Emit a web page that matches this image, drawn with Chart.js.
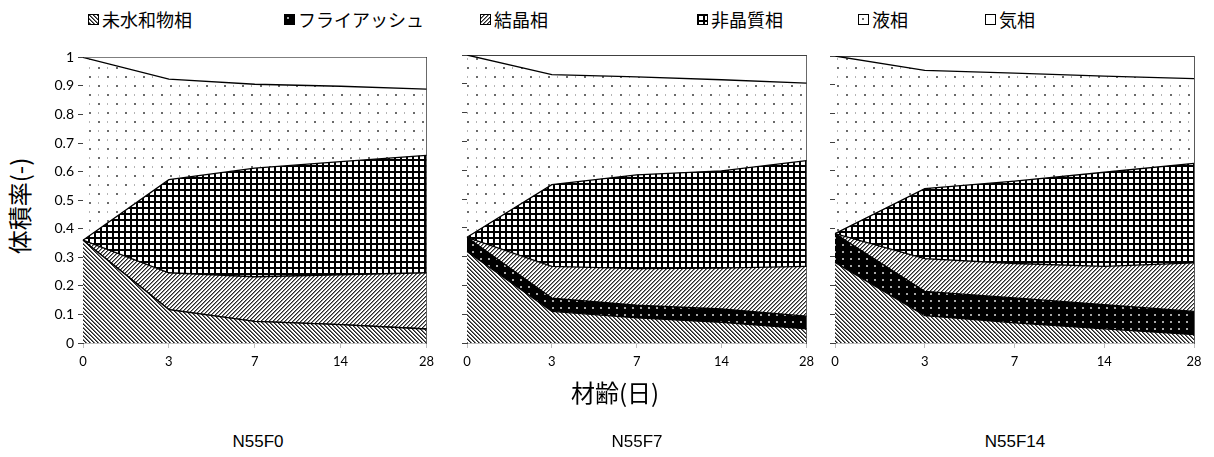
<!DOCTYPE html>
<html><head><meta charset="utf-8">
<script src="https://cdn.jsdelivr.net/npm/chart.js@4"></script>
<style>
html,body{margin:0;padding:0;background:#fff;width:1214px;height:457px;overflow:hidden;}
body{position:relative;font-family:"Noto Sans CJK JP",sans-serif;color:#000;}
.pc{position:absolute;}
.leg{position:absolute;top:9px;height:20px;font-size:18px;line-height:20px;display:flex;align-items:center;white-space:nowrap;}
.leg canvas{width:11px;height:11px;margin-right:3px;}
.t{position:absolute;white-space:nowrap;line-height:1;}
</style></head><body>

<div class="leg" style="left:88px"><canvas id="sw0" width="11" height="11"></canvas>未水和物相</div>
<div class="leg" style="left:284px"><canvas id="sw1" width="11" height="11"></canvas>フライアッシュ</div>
<div class="leg" style="left:480px"><canvas id="sw2" width="11" height="11"></canvas>結晶相</div>
<div class="leg" style="left:697px"><canvas id="sw3" width="11" height="11"></canvas>非晶質相</div>
<div class="leg" style="left:858px"><canvas id="sw4" width="11" height="11"></canvas>液相</div>
<div class="leg" style="left:985px"><canvas id="sw5" width="11" height="11"></canvas>気相</div>

<canvas id="c1" class="pc" style="left:40px;top:45px;width:400px;height:335px" width="400" height="335"></canvas>
<canvas id="c2" class="pc" style="left:445px;top:45px;width:375px;height:335px" width="375" height="335"></canvas>
<canvas id="c3" class="pc" style="left:815px;top:45px;width:395px;height:335px" width="395" height="335"></canvas>

<div class="t" id="ytitle" style="left:19px;top:206px;font-size:24px;transform:translate(-50%,-50%) rotate(-90deg);">体積率(-)</div>
<div class="t" style="left:615px;top:392px;font-size:24px;transform:translate(-50%,-50%);">材齢(日)</div>
<div class="t" style="left:258px;top:441px;font-size:17px;font-family:'Liberation Sans',Arial,sans-serif;transform:translate(-50%,-50%);">N55F0</div>
<div class="t" style="left:637px;top:441px;font-size:17px;font-family:'Liberation Sans',Arial,sans-serif;transform:translate(-50%,-50%);">N55F7</div>
<div class="t" style="left:1015px;top:441px;font-size:17px;font-family:'Liberation Sans',Arial,sans-serif;transform:translate(-50%,-50%);">N55F14</div>

<script>
// ---- data ----
const days = ['0', '3', '7', '14', '28'];
const yTickLabels = ['0', '0.1', '0.2', '0.3', '0.4', '0.5', '0.6', '0.7', '0.8', '0.9', '1'];
const phaseNames = ['未水和物相', 'フライアッシュ', '結晶相', '非晶質相', '液相', '気相'];
const panelNames = ['N55F0', 'N55F7', 'N55F14'];

// N55F0
const f0Unhydrated = [0.360, 0.117, 0.076, 0.064, 0.049];
const f0FlyAsh     = [0, 0, 0, 0, 0];
const f0Crystal    = [0, 0.129, 0.156, 0.175, 0.197];
const f0Amorphous  = [0, 0.326, 0.380, 0.396, 0.411];
const f0Liquid     = [0.640, 0.352, 0.294, 0.264, 0.232];
const f0Gas        = [0, 0.076, 0.094, 0.101, 0.111];
// N55F7
const f7Unhydrated = [0.318, 0.110, 0.087, 0.072, 0.049];
const f7FlyAsh     = [0.049, 0.046, 0.044, 0.046, 0.044];
const f7Crystal    = [0, 0.110, 0.127, 0.142, 0.173];
const f7Amorphous  = [0, 0.284, 0.326, 0.338, 0.367];
const f7Liquid     = [0.633, 0.382, 0.340, 0.316, 0.269];
const f7Gas        = [0, 0.068, 0.076, 0.086, 0.098];
// N55F14
const f14Unhydrated = [0.281, 0.095, 0.070, 0.049, 0.029];
const f14FlyAsh     = [0.100, 0.085, 0.087, 0.085, 0.081];
const f14Crystal    = [0, 0.114, 0.120, 0.133, 0.169];
const f14Amorphous  = [0, 0.244, 0.287, 0.328, 0.347];
const f14Liquid     = [0.619, 0.412, 0.376, 0.335, 0.295];
const f14Gas        = [0, 0.050, 0.060, 0.070, 0.079];

// ---- patterns ----
function tile(w, h, draw) {
  const c = document.createElement('canvas');
  c.width = w; c.height = h;
  const g = c.getContext('2d');
  draw(g, w, h);
  return c;
}
function px(g, x, y, col) { g.fillStyle = col; g.fillRect(x, y, 1, 1); }
const tiles = [
  // unhydrated: \\\ diagonal
  tile(4, 4, (g) => { g.fillStyle = '#fff'; g.fillRect(0,0,4,4);
    for (let y=0;y<4;y++) for (let x=0;x<4;x++) { const d=((x-y)%4+4)%4; if(d===0) px(g,x,y,'#202020'); else if(d===1) px(g,x,y,'#707070'); } }),
  // fly ash: black with light dots
  tile(8, 7, (g) => { g.fillStyle = '#000'; g.fillRect(0,0,8,7); g.fillStyle='#a8a8a8'; g.fillRect(3,3,2,2); }),
  // crystalline: /// diagonal
  tile(4, 4, (g) => { g.fillStyle = '#fff'; g.fillRect(0,0,4,4);
    for (let y=0;y<4;y++) for (let x=0;x<4;x++) { const d=(x+y)%4; if(d===0) px(g,x,y,'#282828'); else if(d===1) px(g,x,y,'#8a8a8a'); } }),
  // amorphous: grid
  tile(6, 6, (g) => { g.fillStyle = '#fff'; g.fillRect(0,0,6,6); g.fillStyle='#000'; g.fillRect(0,0,6,2); g.fillRect(0,0,2,6); }),
  // liquid: dots
  tile(18, 18, (g) => { g.fillStyle = '#fff'; g.fillRect(0,0,18,18);
    g.fillStyle='#6a6a6a'; g.fillRect(4,4,2,2); g.fillRect(13,13,2,2);
    g.fillStyle='#b4b4b4'; g.fillRect(13,4,1,2); g.fillRect(4,13,1,2); }),
  // gas: plain white
  tile(2, 2, (g) => { g.fillStyle = '#fff'; g.fillRect(0,0,2,2); })
];
function pattern(i) {
  return document.createElement('canvas').getContext('2d').createPattern(tiles[i], 'repeat');
}

// legend swatches
for (let i = 0; i < 6; i++) {
  const g = document.getElementById('sw' + i).getContext('2d');
  g.fillStyle = g.createPattern(tiles[i], 'repeat');
  g.fillRect(0, 0, 11, 11);
  g.strokeStyle = '#000'; g.lineWidth = 1;
  g.strokeRect(0.5, 0.5, 10, 10);
}

function makePanel(id, series, geom, showY) {
  const datasets = series.map((vals, i) => ({
    label: phaseNames[i],
    data: vals,
    backgroundColor: pattern(i),
    borderColor: '#000',
    borderWidth: 1.3,
    pointRadius: 0,
    tension: 0,
    fill: i === 0 ? 'origin' : '-1'
  }));
  new Chart(document.getElementById(id), {
    type: 'line',
    data: { labels: days, datasets },
    options: {
      responsive: false, animation: false,
      layout: { padding: { left: 0, right: geom.padR, top: geom.padT, bottom: 0 } },
      plugins: { legend: { display: false }, tooltip: { enabled: false } },
      scales: {
        x: {
          type: 'category', offset: false,
          grid: { drawOnChartArea: false, drawTicks: true, tickLength: 5, color: '#bfbfbf' },
          border: { color: '#bfbfbf', width: 1 },
          ticks: { font: { family: 'Lato, "Open Sans", sans-serif', size: 13 }, color: '#000', padding: 6, maxRotation: 0 },
          afterFit: s => { s.height = geom.xH; }
        },
        y: {
          stacked: true, min: 0, max: 1,
          grid: { drawOnChartArea: false, drawTicks: true, tickLength: 5, color: '#404040' },
          border: { color: '#404040', width: 1 },
          ticks: { display: showY, stepSize: 0.1, font: { family: 'Lato, "Open Sans", sans-serif', size: 14 }, color: '#000', padding: 4,
                   callback: (v, i) => yTickLabels[i] },
          afterFit: s => { s.width = geom.yW; }
        },
        yR: {
          position: 'right', min: 0, max: 1,
          grid: { display: false, drawTicks: false },
          border: { color: '#595959', width: 1 },
          ticks: { display: false },
          afterFit: s => { s.width = 0; }
        }
      }
    }
  });
}

makePanel('c1', [f0Unhydrated, f0FlyAsh, f0Crystal, f0Amorphous, f0Liquid, f0Gas], { yW: 43, padR: 11, padT: 12, xH: 37 }, true);
makePanel('c2', [f7Unhydrated, f7FlyAsh, f7Crystal, f7Amorphous, f7Liquid, f7Gas], { yW: 22, padR: 11, padT: 10, xH: 37 }, false);
makePanel('c3', [f14Unhydrated, f14FlyAsh, f14Crystal, f14Amorphous, f14Liquid, f14Gas], { yW: 20, padR: 16, padT: 11, xH: 37 }, false);
</script>
</body></html>
